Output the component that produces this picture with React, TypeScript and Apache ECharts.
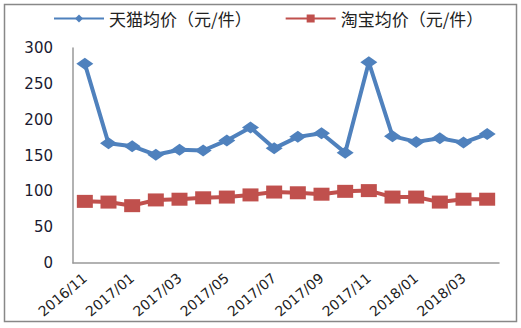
import React, { useEffect, useRef } from "react";
import * as echarts from "echarts";

const categories = [
  "2016/11", "2016/12", "2017/01", "2017/02", "2017/03", "2017/04",
  "2017/05", "2017/06", "2017/07", "2017/08", "2017/09", "2017/10",
  "2017/11", "2017/12", "2018/01", "2018/02", "2018/03", "2018/04",
];
const tmallAvg = [278, 167, 163, 151, 158, 157, 171, 189, 160, 176, 181, 154, 280, 177, 169, 174, 168, 180];
const taobaoAvg = [86, 85, 80, 88, 89, 91, 92, 95, 99, 98, 96, 100, 101, 92, 92, 85, 89, 89];
const seriesNames = ["天猫均价（元/件）", "淘宝均价（元/件）"];

export default function App() {
  const ref = useRef<HTMLDivElement>(null);
  useEffect(() => {
    if (!ref.current) return;
    const chart = echarts.init(ref.current, undefined, { renderer: "svg" });
    chart.setOption({
      animation: false,
      backgroundColor: "#ffffff",
      legend: {
        top: 5,
        left: 48,
        itemWidth: 50,
        itemHeight: 10,
        itemGap: 33,
        textStyle: { fontFamily: "Noto Sans CJK SC", fontSize: 17, color: "#222" },
        data: seriesNames,
      },
      grid: { left: 73, right: 22, top: 48, bottom: 65, containLabel: false },
      xAxis: {
        type: "category",
        data: categories,
        boundaryGap: true,
        axisLine: { show: true, lineStyle: { color: "#999", width: 1.5 } },
        axisTick: { show: false },
        axisLabel: {
          interval: 1,
          rotate: 40,
          margin: 13,
          fontFamily: "DejaVu Sans",
          fontSize: 14,
          color: "#222",
        },
      },
      yAxis: {
        type: "value",
        min: 0,
        max: 300,
        interval: 50,
        axisLine: { show: true, lineStyle: { color: "#999", width: 1.5 } },
        axisTick: { show: false },
        splitLine: { show: false },
        axisLabel: { margin: 20, fontFamily: "DejaVu Sans", fontSize: 15, color: "#1a1a30" },
      },
      series: [
        {
          name: seriesNames[0],
          type: "line",
          data: tmallAvg,
          symbol: "diamond",
          symbolSize: [17, 12],
          lineStyle: { color: "#4F81BD", width: 4 },
          itemStyle: { color: "#4F81BD" },
        },
        {
          name: seriesNames[1],
          type: "line",
          data: taobaoAvg,
          symbol: "rect",
          symbolSize: [16, 13],
          lineStyle: { color: "#C0504D", width: 4 },
          itemStyle: { color: "#C0504D" },
        },
      ],
      graphic: [
        {
          type: "rect",
          shape: { x: 4.5, y: 4.5, width: 512, height: 317 },
          style: { fill: "none", stroke: "#888", lineWidth: 1.5 },
          silent: true,
        },
      ],
    });
    return () => chart.dispose();
  }, []);
  return (
    <div
      ref={ref}
      style={{ position: "fixed", left: 0, top: 0, width: 521, height: 328 }}
    />
  );
}
